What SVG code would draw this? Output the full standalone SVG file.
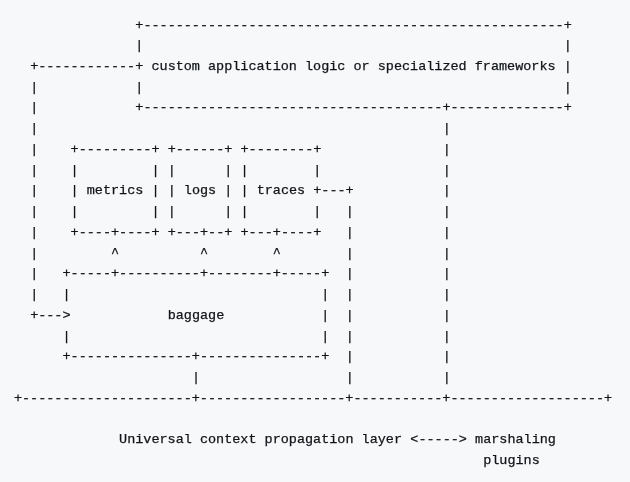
<svg xmlns="http://www.w3.org/2000/svg" width="630" height="482" viewBox="0 0 630 482" xml:space="preserve">
<style>
text { font-family: "Liberation Mono", "DejaVu Sans Mono", monospace; font-size: 13.48px; fill: #111418; stroke: #111418; stroke-width: 0.25px; white-space: pre; }
</style>
<defs>
<filter id="gray" x="0" y="0" width="630" height="482" filterUnits="userSpaceOnUse"><feOffset dx="0" dy="0"/></filter>
</defs>
<rect x="0" y="0" width="630" height="482" fill="#f6f8fa"/>
<g filter="url(#gray)">
<g id="app-logic">
<text x="135.30" y="28.50">+----------------------------------------------------+</text>
<text x="135.30" y="49.24">|                                                    |</text>
<text x="135.30" y="69.98">+ custom application logic or specialized frameworks |</text>
<text x="135.30" y="90.72">|                                                    |</text>
<text x="135.30" y="111.46">+-------------------------------------+--------------+</text>
</g>
<g id="metrics">
<text x="70.58" y="152.94">+---------+</text>
<text x="70.58" y="173.68">|         |</text>
<text x="70.58" y="194.42">| metrics |</text>
<text x="70.58" y="215.16">|         |</text>
<text x="70.58" y="235.90">+----+----+</text>
</g>
<g id="logs">
<text x="167.66" y="152.94">+------+</text>
<text x="167.66" y="173.68">|      |</text>
<text x="167.66" y="194.42">| logs |</text>
<text x="167.66" y="215.16">|      |</text>
<text x="167.66" y="235.90">+---+--+</text>
</g>
<g id="traces">
<text x="240.47" y="152.94">+--------+</text>
<text x="240.47" y="173.68">|        |</text>
<text x="240.47" y="194.42">| traces +</text>
<text x="240.47" y="215.16">|        |</text>
<text x="240.47" y="235.90">+---+----+</text>
</g>
<g id="baggage">
<text x="62.49" y="277.38">+-----+----------+--------+-----+</text>
<text x="62.49" y="298.12">|                               |</text>
<text x="167.66" y="318.86">baggage</text>
<text x="321.37" y="318.86">|</text>
<text x="62.49" y="339.60">|                               |</text>
<text x="62.49" y="360.34">+---------------+---------------+</text>
</g>
<g id="propagation-layer">
<text x="13.95" y="401.82">+---------------------+------------------+-----------+-------------------+</text>
<text x="119.12" y="443.30">Universal context propagation layer</text>
</g>
<g id="marshaling-plugins">
<text x="475.08" y="443.30">marshaling</text>
<text x="483.17" y="464.04">plugins</text>
</g>
<g id="connectors">
<text x="30.13" y="69.98">+------------</text>
<text x="30.13" y="90.72">|</text>
<text x="30.13" y="111.46">|</text>
<text x="30.13" y="132.20">|</text>
<text x="30.13" y="152.94">|</text>
<text x="30.13" y="173.68">|</text>
<text x="30.13" y="194.42">|</text>
<text x="30.13" y="215.16">|</text>
<text x="30.13" y="235.90">|</text>
<text x="30.13" y="256.64">|</text>
<text x="30.13" y="277.38">|</text>
<text x="30.13" y="298.12">|</text>
<text x="30.13" y="318.86">+---&gt;</text>
<text x="442.72" y="132.20">|</text>
<text x="442.72" y="152.94">|</text>
<text x="442.72" y="173.68">|</text>
<text x="442.72" y="194.42">|</text>
<text x="442.72" y="215.16">|</text>
<text x="442.72" y="235.90">|</text>
<text x="442.72" y="256.64">|</text>
<text x="442.72" y="277.38">|</text>
<text x="442.72" y="298.12">|</text>
<text x="442.72" y="318.86">|</text>
<text x="442.72" y="339.60">|</text>
<text x="442.72" y="360.34">|</text>
<text x="442.72" y="381.08">|</text>
<text x="321.37" y="194.42">---+</text>
<text x="345.64" y="215.16">|</text>
<text x="345.64" y="235.90">|</text>
<text x="345.64" y="256.64">|</text>
<text x="345.64" y="277.38">|</text>
<text x="345.64" y="298.12">|</text>
<text x="345.64" y="318.86">|</text>
<text x="345.64" y="339.60">|</text>
<text x="345.64" y="360.34">|</text>
<text x="345.64" y="381.08">|</text>
<text x="111.03" y="256.64">^</text>
<text x="200.02" y="256.64">^</text>
<text x="272.83" y="256.64">^</text>
<text x="191.93" y="381.08">|</text>
<text x="410.36" y="443.30">&lt;-----&gt;</text>
</g>
</g>
</svg>
